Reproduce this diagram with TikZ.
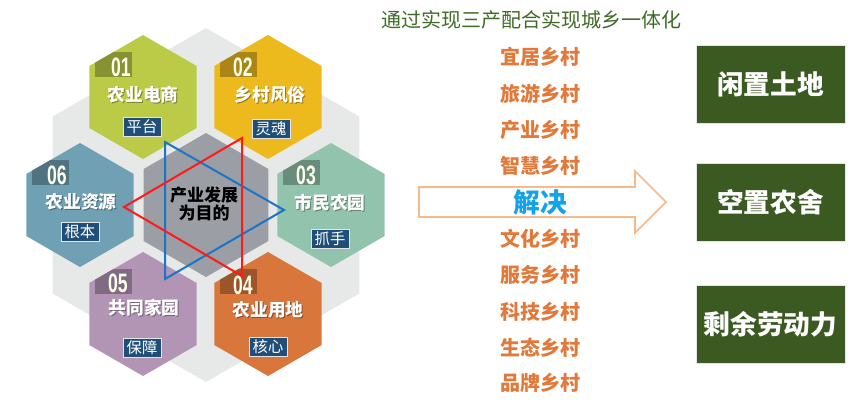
\documentclass[tikz,border=0pt]{standalone}
\usepackage{fontspec}
\newfontfamily\cjk{Noto Sans CJK SC}
\newfontfamily\numfont[FakeStretch=0.66]{Liberation Sans}
\definecolor{bghex}{HTML}{E7E8E8}
\definecolor{midhex}{HTML}{9B9EA4}
\definecolor{hexA}{HTML}{BCCB47}
\definecolor{hexB}{HTML}{EDBA1E}
\definecolor{hexC}{HTML}{92C3AD}
\definecolor{hexD}{HTML}{D8763B}
\definecolor{hexE}{HTML}{B295B5}
\definecolor{hexF}{HTML}{6FA0B4}
\definecolor{navy}{HTML}{1F4E79}
\definecolor{titlegreen}{HTML}{3E6B25}
\definecolor{itemorange}{HTML}{E0793A}
\definecolor{arrowline}{HTML}{F7B88A}
\definecolor{solveblue}{HTML}{14A3EA}
\definecolor{boxgreen}{HTML}{3A5A22}
\definecolor{trired}{HTML}{FF1A1A}
\definecolor{triblue}{HTML}{1A75C9}
\newcommand{\hexfill}[4]{\fill[#1,shift={(#2,#3)}] (90:#4) -- (150:#4) -- (210:#4) -- (270:#4) -- (330:#4) -- (30:#4) -- cycle;}
\newcommand{\hextag}[3]{%
  \begin{scope}
    \clip[shift={(#2,#3)}] (90:62) -- (150:62) -- (210:62) -- (270:62) -- (330:62) -- (30:62) -- cycle;
    \fill[#1,shift={(#2,#3)}] (-48,-45) rectangle (-11,-20);
  \end{scope}}
\tikzset{
  hext/.style={font=\cjk\bfseries\fontsize{13.3pt}{15pt}\selectfont, text=white, inner sep=0pt},
  hexshadow/.style={font=\cjk\bfseries\fontsize{13.3pt}{15pt}\selectfont, text=black, opacity=0.35, inner sep=0pt},
  numtext/.style={font=\numfont\bfseries\fontsize{20pt}{21pt}\selectfont, text=white!92!yellow, inner sep=0pt},
  lbl/.style={font=\cjk\fontsize{11.5pt}{13pt}\selectfont, text=white, fill=navy, draw=white!80!gray, line width=0.6pt, minimum width=28.5pt, minimum height=14.25pt, inner sep=0pt},
  midtext/.style={font=\cjk\bfseries\fontsize{12.75pt}{13.5pt}\selectfont, text=black, align=center, inner sep=0pt},
  item/.style={font=\cjk\bfseries\fontsize{15pt}{17pt}\selectfont, text=itemorange, inner sep=0pt},
  gbox/.style={fill=boxgreen, draw=white!80!gray, line width=0.6pt, minimum width=111.75pt, minimum height=58.5pt, inner sep=0pt, font=\cjk\bfseries\fontsize{20pt}{22pt}\selectfont, text=white},
  tri/.style={line width=1.5pt, line join=miter}
}
\begin{document}
\begin{tikzpicture}[x=0.75pt,y=-0.75pt]
\useasboundingbox (0,0) rectangle (854,411);
% background and centre hexagons
\hexfill{bghex}{206}{205}{177}
\hexfill{midhex}{206}{205}{72}
% six hexagons
\hexfill{hexA}{143}{97}{62}
\hexfill{hexB}{268}{97}{62}
\hexfill{hexC}{331}{205}{62}
\hexfill{hexD}{268}{314}{62}
\hexfill{hexE}{143}{314}{62}
\hexfill{hexF}{80}{205}{62}
\hextag{hexA!72!black}{143}{97}
\hextag{hexB!72!black}{268}{97}
\hextag{hexC!72!black}{331}{205}
\hextag{hexD!72!black}{268}{314}
\hextag{hexE!72!black}{143}{314}
\hextag{hexF!72!black}{80}{205}
\coordinate (c1) at (143,97);
\coordinate (c2) at (268,97);
\coordinate (c3) at (331,205);
\coordinate (c4) at (268,314);
\coordinate (c5) at (143,314);
\coordinate (c6) at (80,205);
\coordinate (c0) at (206,205);
% numbers
\node[numtext] (n1) at ([shift={(-22,-30)}]c1) {01};
\node[numtext] (n2) at ([shift={(-25,-30)}]c2) {02};
\node[numtext] (n3) at ([shift={(-25,-30)}]c3) {03};
\node[numtext] (n4) at ([shift={(-25,-29)}]c4) {04};
\node[numtext] (n5) at ([shift={(-25,-31)}]c5) {05};
\node[numtext] (n6) at ([shift={(-23,-30)}]c6) {06};
% main texts with shadows
\node[hexshadow] (s1) at ([shift={(1,-1)}]c1) {农业电商};
\node[hext] (t1) at ([shift={(0,-2)}]c1) {农业电商};
\node[hexshadow] (s2) at ([shift={(3,-1)}]c2) {乡村风俗};
\node[hext] (t2) at ([shift={(2,-2)}]c2) {乡村风俗};
\node[hexshadow] (s3) at ([shift={(0,-1)}]c3) {市民农园};
\node[hext] (t3) at ([shift={(-1,-2)}]c3) {市民农园};
\node[hexshadow] (s4) at ([shift={(1,-3)}]c4) {农业用地};
\node[hext] (t4) at ([shift={(0,-4)}]c4) {农业用地};
\node[hexshadow] (s5) at ([shift={(2,-5)}]c5) {共同家园};
\node[hext] (t5) at ([shift={(1,-6)}]c5) {共同家园};
\node[hexshadow] (s6) at ([shift={(2,-2)}]c6) {农业资源};
\node[hext] (t6) at ([shift={(1,-3)}]c6) {农业资源};
% labels
\node[lbl] (l1) at ([shift={(-1,30)}]c1) {平台};
\node[lbl] (l2) at ([shift={(3,32)}]c2) {灵魂};
\node[lbl] (l3) at ([shift={(-1,34)}]c3) {抓手};
\node[lbl] (l4) at ([shift={(0,33)}]c4) {核心};
\node[lbl] (l5) at ([shift={(-1,34)}]c5) {保障};
\node[lbl] (l6) at ([shift={(0,27)}]c6) {根本};
% centre text
\node[midtext] (mid) at ([shift={(-2,-1)}]c0) {产业发展\\为目的};
% triangles
\coordinate (ra) at (124,207);
\coordinate (rb) at (242,138);
\coordinate (rc) at (242,276);
\coordinate (ba) at (165,142);
\coordinate (bb) at (165,279);
\coordinate (bc) at (284,210);
\draw[tri, triblue] (ba) -- (bb) -- (bc) -- cycle;
\draw[tri, trired] (ra) -- (rb) -- (rc) -- cycle;
% title
\node[font=\cjk\fontsize{15pt}{17pt}\selectfont, text=titlegreen, inner sep=0pt, anchor=west] (title) at (381,20) {通过实现三产配合实现城乡一体化};
% arrow
\draw[arrowline, fill=white, line width=1.2pt, line join=miter]
  (419,187) -- (635,187) -- (635,171) -- (666,202) -- (635,233) -- (635,217) -- (419,217) -- cycle;
\node[font=\cjk\bfseries\fontsize{20pt}{22pt}\selectfont, text=solveblue, inner sep=0pt] (solve) at (540,202) {解决};
% items
\node[item] (i1) at (540,57) {宜居乡村};
\node[item] (i2) at (540,94) {旅游乡村};
\node[item] (i3) at (540,130) {产业乡村};
\node[item] (i4) at (540,166) {智慧乡村};
\node[item] (i5) at (540,239) {文化乡村};
\node[item] (i6) at (540,275) {服务乡村};
\node[item] (i7) at (540,312) {科技乡村};
\node[item] (i8) at (540,348) {生态乡村};
\node[item] (i9) at (540,383) {品牌乡村};
% green boxes
\node[gbox] (g1) at (770.5,84) {闲置土地};
\node[gbox] (g2) at (770.5,202.5) {空置农舍};
\node[gbox] (g3) at (770.5,324.5) {剩余劳动力};
\end{tikzpicture}
\end{document}
